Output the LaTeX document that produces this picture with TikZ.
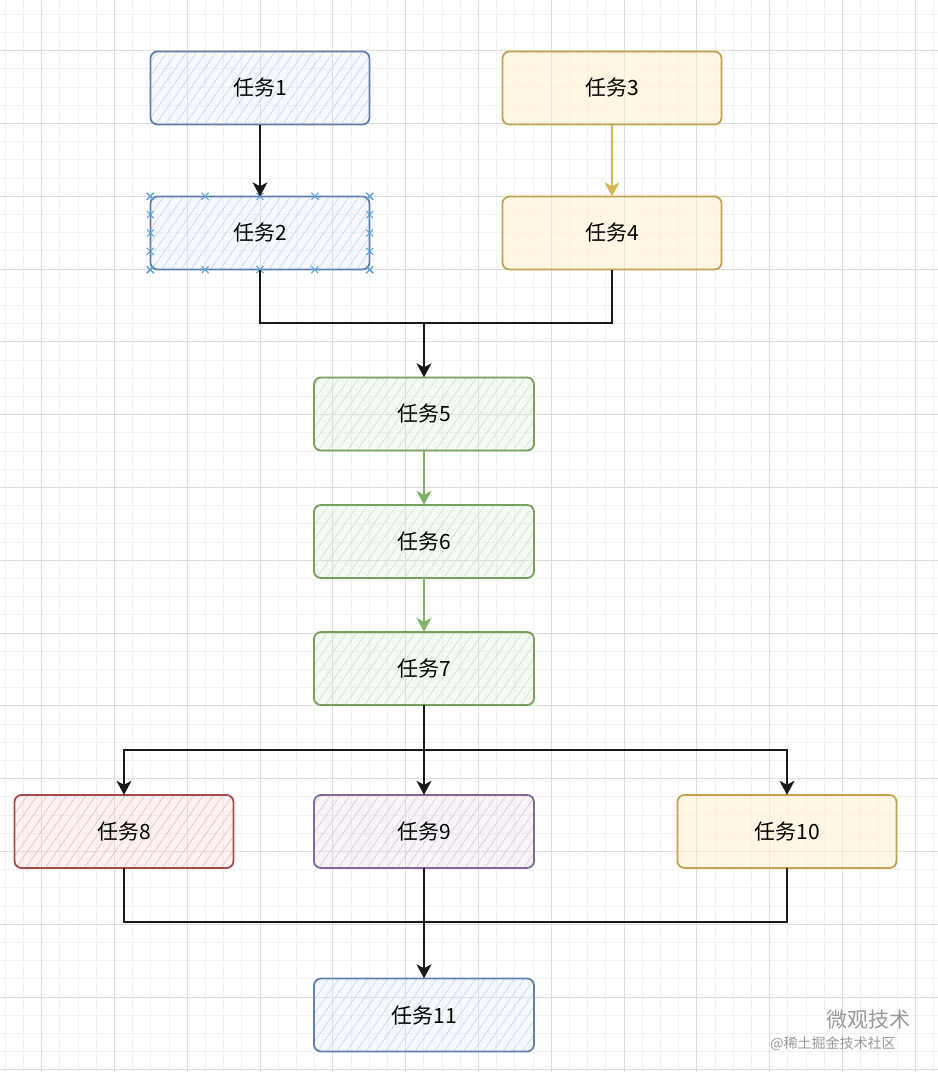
\documentclass[tikz,border=0pt]{standalone}
\usepackage{fontspec}
\newfontfamily\cjk{Noto Sans CJK SC}
\usetikzlibrary{arrows.meta,patterns.meta,calc}
\definecolor{bS}{HTML}{6C8EBF}\definecolor{bF}{HTML}{DAE8FC}
\definecolor{yS}{HTML}{D6B656}\definecolor{yF}{HTML}{FFF2CC}
\definecolor{gS}{HTML}{82B366}\definecolor{gF}{HTML}{D5E8D4}
\definecolor{rS}{HTML}{B85450}\definecolor{rF}{HTML}{F8CECC}
\definecolor{pS}{HTML}{9673A6}\definecolor{pF}{HTML}{E1D5E7}
\definecolor{xB}{HTML}{5DA3DA}
\begin{document}
\begin{tikzpicture}[x=1pt,y=-1pt,
  minorgrid/.style={draw=black!5,line width=0.6pt},
  majorgrid/.style={draw=black!13,line width=0.8pt},
  box/.style={rectangle,rounded corners=7pt,minimum width=219pt,minimum height=73pt,inner sep=0pt,
    font=\cjk\fontsize{21}{21}\selectfont,text=black},
  hbox/.style 2 args={box,fill=#2,fill opacity=0.25,text opacity=1,
    postaction={pattern={Lines[angle=55,distance=8pt,line width=0.7pt]},pattern color=#1!35,fill opacity=1},
    postaction={draw=#1!90!black,line width=1.8pt,draw opacity=1}},
  pbox/.style 2 args={box,fill=#2,fill opacity=0.55,text opacity=1,
    postaction={draw=#1!90!black,line width=1.8pt,draw opacity=1}},
  line/.style={line width=1.5pt,draw=black!90},
  conn/.style={line,-{Stealth[length=14pt,width=15pt,inset=4pt]}},
  xmark/.style={draw=xB,line width=1.1pt},
  wm/.style={text=black!40,font=\cjk\fontsize{#1}{#1}\selectfont}
]
\useasboundingbox (0,0) rectangle (938,1072);
\fill[white] (0,0) rectangle (938,1072);
% grid
\foreach \i in {-2,...,49} \draw[minorgrid] ({41.5+18.2*\i},0) -- ({41.5+18.2*\i},1072);
\foreach \j in {-2,...,56} \draw[minorgrid] (0,{50.5+18.2*\j}) -- (938,{50.5+18.2*\j});
\foreach \i in {0,4,...,48} \draw[majorgrid] ({41.5+18.2*\i},0) -- ({41.5+18.2*\i},1072);
\foreach \j in {0,4,...,56} \draw[majorgrid] (0,{50.5+18.2*\j}) -- (938,{50.5+18.2*\j});

% nodes
\node[hbox={bS}{bF}] (t1) at (260,88) {任务1};
\node[hbox={bS}{bF}] (t2) at (260,233) {任务2};
\node[pbox={yS}{yF}] (t3) at (612,88) {任务3};
\node[pbox={yS}{yF}] (t4) at (612,233) {任务4};
\node[hbox={gS}{gF},minimum width=220pt] (t5) at (424,414) {任务5};
\node[hbox={gS}{gF},minimum width=220pt] (t6) at (424,541.5) {任务6};
\node[hbox={gS}{gF},minimum width=220pt] (t7) at (424,668.5) {任务7};
\node[hbox={rS}{rF}] (t8) at (124,831.5) {任务8};
\node[hbox={pS}{pF},minimum width=220pt] (t9) at (424,831.5) {任务9};
\node[pbox={yS}{yF}] (t10) at (787,831.5) {任务10};
\node[hbox={bS}{bF},minimum width=220pt] (t11) at (424,1015) {任务11};

% connection markers on task 2
\foreach \f in {0,0.25,0.5,0.75,1}{
  \foreach \a/\b in {north west/north east,south west/south east,north west/south west,north east/south east}{
    \draw[xmark] ($(t2.\a)!\f!(t2.\b)$) +(-3.5,-3.5) -- +(3.5,3.5) +(-3.5,3.5) -- +(3.5,-3.5);
  }
}

% coordinates
\coordinate (j1) at (424,323);
\coordinate (j2) at (424,750);
\coordinate (j3) at (424,922);

% connectors
\draw[conn] (t1.south) -- (t2.north);
\draw[conn,draw=yS] (t3.south) -- (t4.north);
\draw[conn] (t2.south) |- (j1) -- (t5.north);
\draw[line] (t4.south) |- (j1);
\draw[conn,draw=gS] (t5.south) -- (t6.north);
\draw[conn,draw=gS] (t6.south) -- (t7.north);
\draw[conn] (t7.south) -- (t9.north);
\draw[conn] (j2) -| (t8.north);
\draw[conn] (j2) -| (t10.north);
\draw[conn] (t9.south) -- (t11.north);
\draw[line] (t8.south) |- (j3);
\draw[line] (t10.south) |- (j3);

% watermark
\node[wm=21] (wm1) at (868,1020) {微观技术};
\node[wm=14] (wm2) at (833,1044) {@稀土掘金技术社区};
\end{tikzpicture}
\end{document}
